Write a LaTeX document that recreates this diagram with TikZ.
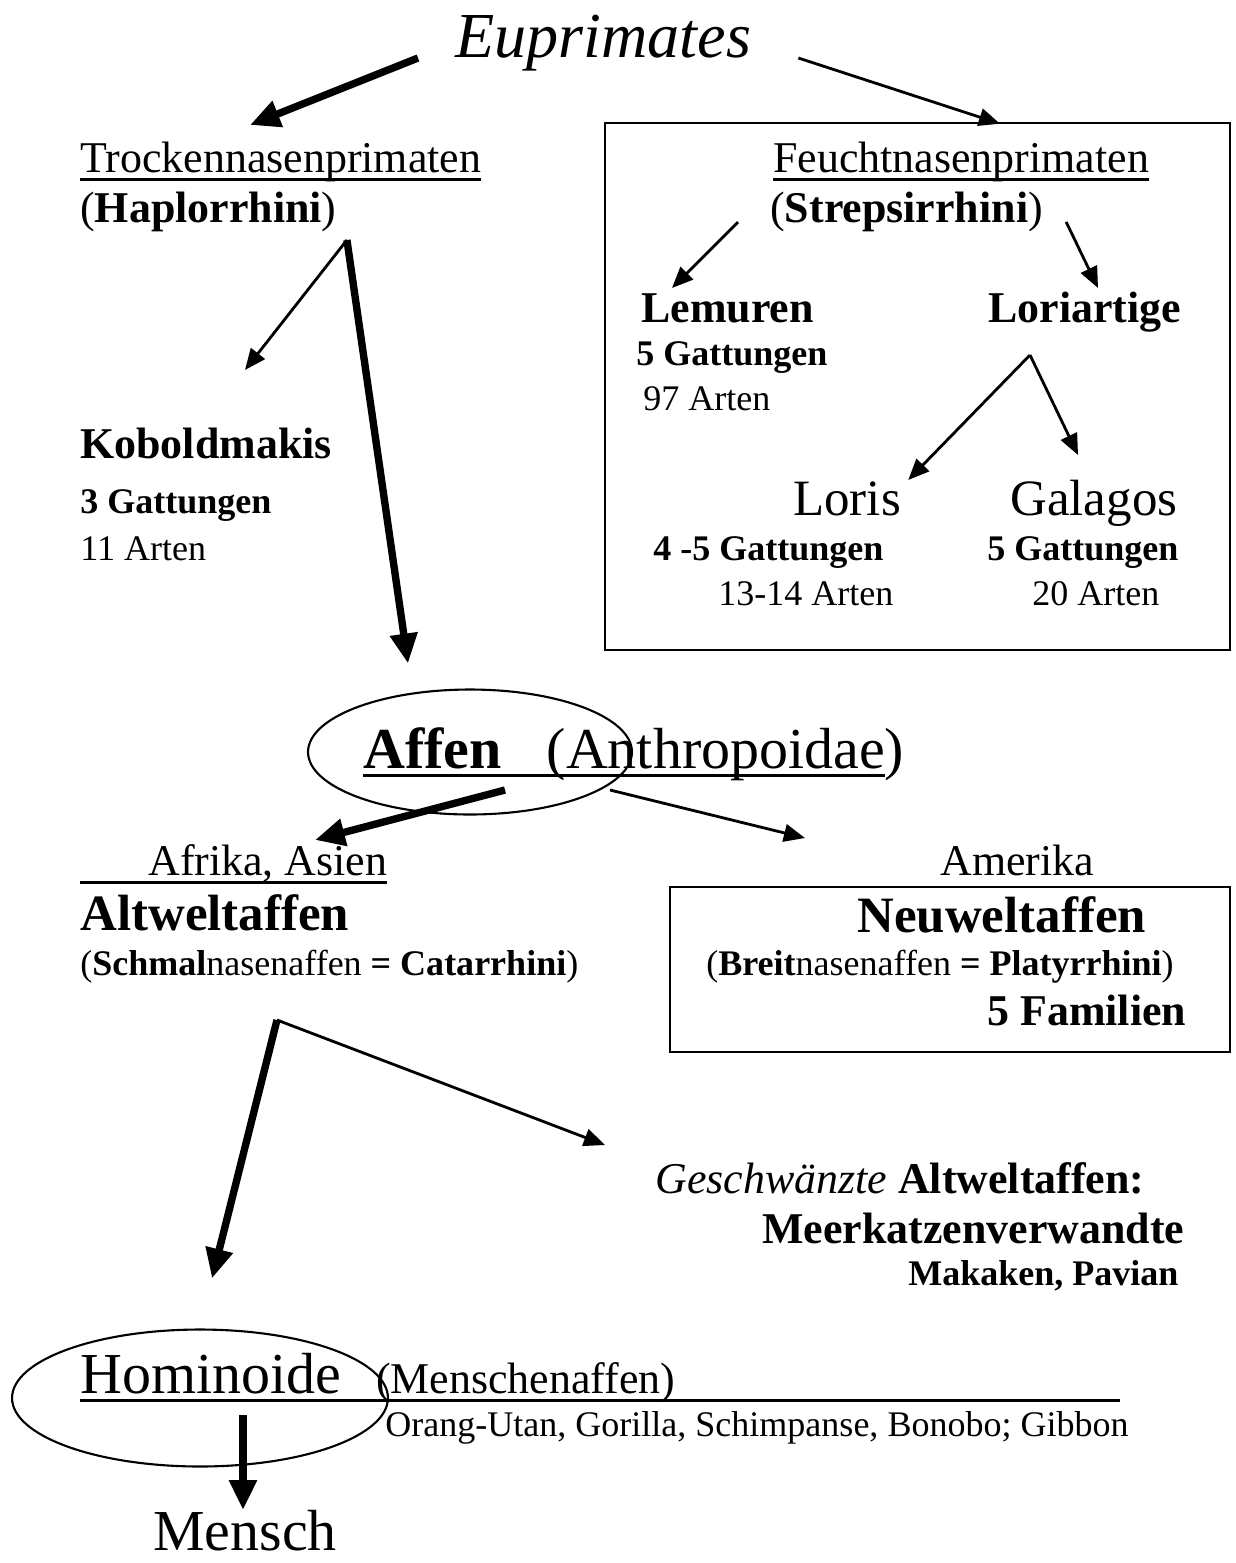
\documentclass[tikz,border=0pt]{standalone}
\usepackage{fontspec}
\setmainfont{Liberation Serif}
\usepackage{tikz}
\usetikzlibrary{arrows.meta}
\usetikzlibrary{shapes.geometric,calc}

\newcommand{\fntS}{\fontsize{20.5}{24}\selectfont}
\newcommand{\fntM}{\fontsize{25}{30}\selectfont}
\newcommand{\fntL}{\fontsize{29}{34}\selectfont}
\newcommand{\fntXL}{\fontsize{33}{40}\selectfont}
\newcommand{\fntXXL}{\fontsize{36.5}{44}\selectfont}
% underline with a thicker rule
\newsavebox{\ulinbox}
\newcommand{\ulin}[1]{\sbox{\ulinbox}{#1}\rlap{\rule[-5pt]{\wd\ulinbox}{1.5pt}}\usebox{\ulinbox}}

\begin{document}
\begin{tikzpicture}[x=0.02cm, y=-0.02cm,
	txt/.style={anchor=base west, inner sep=0pt},
	thinarr/.style={-{Triangle[length=12pt,width=10pt]}, line width=1.6pt},
	thickarr/.style={-{Triangle[length=17pt,width=15pt]}, line width=4.2pt},
	ring/.style={draw, ellipse, line width=1.2pt, inner sep=0pt}]
		\useasboundingbox (0,0) rectangle (1235,1563);
		% top
		\node[txt, font=\fntXXL] (eupr) at (455,57) {\textit{Euprimates}};
		\node[txt, font=\fntM] (trocken) at (80,172) {\ulin{Trockennasenprimaten}};
		\node[txt, font=\fntM] (haplo) at (80,222) {(\textbf{Haplorrhini})};
		\node[draw, line width=1.5pt, minimum width=12.5cm, minimum height=10.54cm] (strepbox) at (917.5,386.5) {};
		\node[txt, font=\fntM] (feucht) at (773,172) {\ulin{Feuchtnasenprimaten}};
		\node[txt, font=\fntM] (strep) at (770,222) {(\textbf{Strepsirrhini})};
		% Strepsirrhini
		\node[txt, font=\fntM\bfseries] (lemuren) at (641,322) {Lemuren};
		\node[txt, font=\fntS\bfseries] (lemgatt) at (636,365) {5 Gattungen};
		\node[txt, font=\fntS] (lemart) at (643,410) {97 Arten};
		\node[txt, font=\fntM\bfseries] (lori) at (988,322) {Loriartige};
		\node[txt, font=\fntL] (loris) at (793,515) {Loris};
		\node[txt, font=\fntS\bfseries] (lorgatt) at (653,560) {4 -5 Gattungen};
		\node[txt, font=\fntS] (lorart) at (718,605) {13-14 Arten};
		\node[txt, font=\fntL] (galagos) at (1010,515) {Galagos};
		\node[txt, font=\fntS\bfseries] (galgatt) at (987,560) {5 Gattungen};
		\node[txt, font=\fntS] (galart) at (1032,605) {20 Arten};
		% Haplorrhini
		\node[txt, font=\fntM\bfseries] (kobold) at (80,458) {Koboldmakis};
		\node[txt, font=\fntS\bfseries] (kobgatt) at (80,513) {3 Gattungen};
		\node[txt, font=\fntS] (kobart) at (80,560) {11 Arten};
		\node[ring, minimum width=6.48cm, minimum height=2.5cm] (affring) at (470,752) {};
		\node[txt, font=\fntXL] (affen) at (363,768) {\ulin{\textbf{Affen}\hspace{0.9cm}(Anthropoidae})};
		% Alt- und Neuweltaffen
		\node[txt, font=\fntM] (afrika) at (80,875) {\ulin{\hspace{1.36cm}Afrika, Asien}};
		\node[txt, font=\fntL\bfseries] (altwelt) at (80,930) {Altweltaffen};
		\node[txt, font=\fntS] (schmal) at (80,975) {(\textbf{Schmal}nasenaffen \textbf{= Catarrhini})};
		\node[txt, font=\fntM] (amerika) at (940,875) {Amerika};
		\node[draw, line width=1.5pt, minimum width=11.2cm, minimum height=3.3cm] (neubox) at (950,969.5) {};
		\node[txt, font=\fntL\bfseries] (neuwelt) at (857,932) {Neuweltaffen};
		\node[txt, font=\fntS] (breit) at (706,975) {(\textbf{Breit}nasenaffen \textbf{= Platyrrhini})};
		\node[txt, font=\fntM\bfseries] (familien) at (987,1025) {5 Familien};
		\node[txt, font=\fntM] (geschw) at (655,1193) {\textit{Geschwänzte} \textbf{Altweltaffen:}};
		\node[txt, font=\fntM\bfseries] (meerk) at (762,1243) {Meerkatzenverwandte};
		\node[txt, font=\fntS\bfseries] (makaken) at (908,1285) {Makaken, Pavian};
		% Menschenaffen
		\node[ring, minimum width=7.52cm, minimum height=2.74cm] (homring) at (200,1398) {};
		\node[txt] (homin) at (80,1393) {\ulin{{\fntXL Hominoide}\hspace{0.7cm}{\fntM(Menschenaffen)}\hspace{8.9cm}}};
		\node[txt, font=\fntS] (arten) at (385,1436) {Orang-Utan, Gorilla, Schimpanse, Bonobo; Gibbon};
		\node[txt, font=\fntXL] (mensch) at (153,1550) {Mensch};

		\draw[thickarr] ($(eupr.base west)+(-37,1)$) -- ($(trocken.base west)+(170,-47)$);
		\draw[thinarr] ($(eupr.base east)+(47,1)$) -- ($(strepbox.north)+(82.5,2)$);
		\draw[thinarr] ($(strep.base west)+(-32,0)$) -- ($(lemuren.base west)+(31,-34)$);
		\draw[thinarr] ($(strep.base east)+(23,0)$) -- ($(lori.base west)+(110,-34)$);
		\draw[thinarr] ($(lori.base west)+(42,33)$) -- ($(loris.base east)+(7,-35)$);
		\draw[thinarr] ($(lori.base west)+(42,33)$) -- ($(galagos.base west)+(68,-60)$);
		\draw[thinarr] ($(haplo.base east)+(10,18)$) -- ($(kobold.base west)+(165,-88)$);
		\draw[thickarr] ($(haplo.base east)+(10,18)$) -- ($(affring.north)+(-62,-25)$);
		\draw[thickarr] ($(affen.base west)+(142,22)$) -- ($(afrika.base west)+(235,-35)$);
		\draw[thinarr] ($(affen.base west)+(247,22)$) -- ($(amerika.base west)+(-135,-37)$);
		\draw[thickarr] ($(schmal.base west)+(197,45)$) -- ($(homring.north)+(12,-50)$);
		\draw[thinarr] ($(schmal.base west)+(197,45)$) -- ($(geschw.base west)+(-50,-48)$);
		\draw[thickarr] ($(homin.base west)+(163,22)$) -- ($(mensch.base west)+(90,-40)$);
\end{tikzpicture}
\end{document}
